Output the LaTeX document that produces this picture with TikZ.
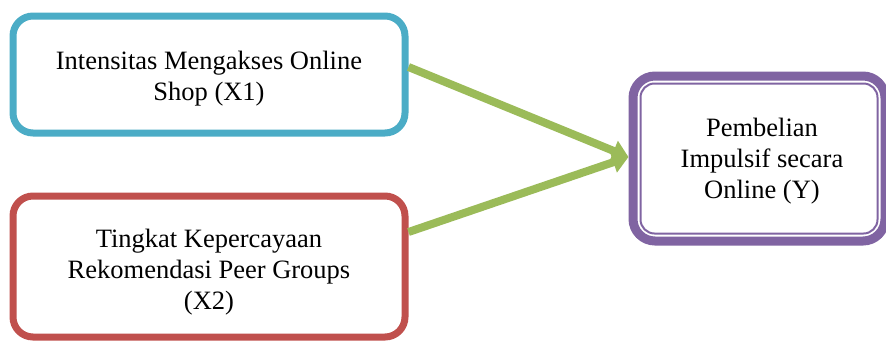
\documentclass[tikz,border=0pt]{standalone}
\usepackage{fontspec}
\setmainfont{Liberation Serif}
\usetikzlibrary{arrows.meta}
\definecolor{cblue}{HTML}{4BACC6}
\definecolor{cred}{HTML}{C0504D}
\definecolor{cpurple}{HTML}{8064A2}
\definecolor{cgreen}{HTML}{9BBB59}
\tikzset{
  varbox/.style={draw, fill=white, rounded corners=20pt, line width=7pt, inner sep=0pt},
  outbox/.style={draw=cpurple, fill=white, rounded corners=22pt, line width=9pt, inner sep=0pt},
  boxtext/.style={inner sep=0pt, align=center, font=\fontsize{26.5}{31}\selectfont},
  link/.style={draw=cgreen, line width=8pt, -{Triangle[length=16pt,width=21pt]}}
}
\begin{document}
\begin{tikzpicture}[x=1pt,y=-1pt]
\useasboundingbox (0,0) rectangle (886,341);
\node[varbox, draw=cblue, minimum width=392pt, minimum height=117pt] (X1) at (209,74.5) {};
\node[boxtext] (X1t) at ([yshift=-4pt]X1.center) {Intensitas Mengakses Online\\Shop (X1)};
\node[varbox, draw=cred, minimum width=392pt, minimum height=141pt] (X2) at (209,266.5) {};
\node[boxtext] (X2t) at ([yshift=-6pt]X2.center) {Tingkat Kepercayaan\\Rekomendasi Peer Groups\\(X2)};
\node[outbox, minimum width=252pt, minimum height=165pt] (Y) at (759,158.5) {};
\node[boxtext] (Yt) at ([xshift=3pt,yshift=-3pt]Y.center) {Pembelian\\Impulsif secara\\Online (Y)};
\draw[cpurple, line width=2pt, rounded corners=14pt]
  ([shift={(12,12)}]Y.north west) rectangle ([shift={(-12,-12)}]Y.south east);
\coordinate (tip) at ([yshift=1.5pt]Y.west);
\draw[link] ([yshift=7.5pt]X1.east) -- (tip);
\draw[link] ([yshift=34.5pt]X2.east) -- (tip);
\end{tikzpicture}
\end{document}
